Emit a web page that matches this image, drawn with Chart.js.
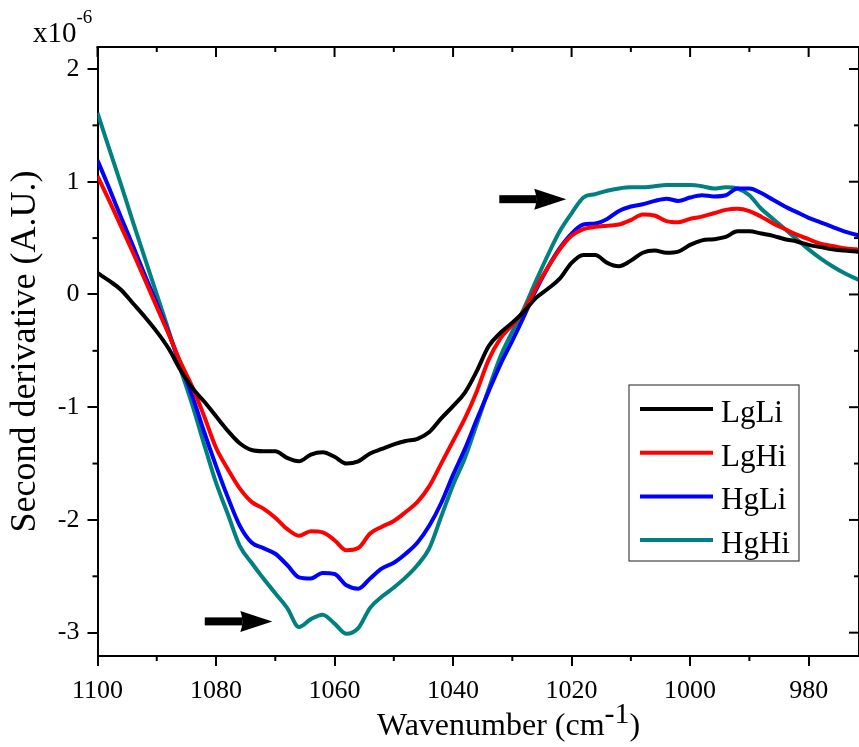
<!DOCTYPE html>
<html>
<head>
<meta charset="utf-8">
<script src="https://cdn.jsdelivr.net/npm/chart.js@4.4.0/dist/chart.umd.min.js"></script>
<style>
  html, body { margin: 0; padding: 0; background: #ffffff; }
  #wrap { width: 859px; height: 747px; }
</style>
</head>
<body>
<div id="wrap"><canvas id="c" width="859" height="747"></canvas></div>
<script>
// Wavenumber grid (cm-1) shared by all spectra
const wavenumbers = [
  1100,1098,1096,1094,1092,1090,1088,1086,1084,1082,
  1080,1078,1076,1074,1072,1070,1068,1066,1064,1062,
  1060,1058,1056,1054,1052,1050,1048,1046,1044,1042,
  1040,1038,1036,1034,1032,1030,1028,1026,1024,1022,
  1020,1018,1016,1014,1012,1010,1008,1006,1004,1002,
  1000,998,996,994,992,990,988,986,984,982,
  980,978,976,974,972,970
];

// Second-derivative spectra, units of 1e-6 A.U.
const lgli = [
  0.19,0.12,0.04,-0.08,-0.20,-0.33,-0.48,-0.67,-0.83,-0.95,
  -1.08,-1.21,-1.32,-1.38,-1.39,-1.39,-1.45,-1.48,-1.42,-1.40,
  -1.44,-1.50,-1.48,-1.41,-1.37,-1.33,-1.30,-1.28,-1.22,-1.10,
  -0.99,-0.87,-0.68,-0.46,-0.34,-0.25,-0.15,-0.03,0.05,0.14,
  0.28,0.35,0.35,0.28,0.25,0.30,0.37,0.39,0.37,0.38,
  0.44,0.48,0.49,0.51,0.56,0.56,0.54,0.52,0.49,0.47,
  0.44,0.42,0.40,0.39,0.38,0.37
];
const lghi = [
  1.05,0.83,0.60,0.37,0.13,-0.11,-0.35,-0.60,-0.82,-1.08,
  -1.36,-1.55,-1.72,-1.84,-1.90,-1.98,-2.08,-2.14,-2.10,-2.11,
  -2.18,-2.27,-2.25,-2.12,-2.06,-2.01,-1.93,-1.84,-1.70,-1.50,
  -1.30,-1.10,-0.86,-0.58,-0.39,-0.27,-0.14,0.06,0.24,0.40,
  0.52,0.58,0.60,0.61,0.62,0.66,0.71,0.70,0.65,0.64,
  0.67,0.69,0.72,0.75,0.76,0.74,0.69,0.63,0.58,0.53,
  0.49,0.45,0.43,0.41,0.40,0.39
];
const hgli = [
  1.19,0.94,0.68,0.43,0.17,-0.08,-0.34,-0.62,-0.90,-1.22,
  -1.52,-1.80,-2.05,-2.20,-2.25,-2.30,-2.40,-2.51,-2.52,-2.47,
  -2.48,-2.58,-2.61,-2.52,-2.43,-2.38,-2.30,-2.20,-2.05,-1.85,
  -1.60,-1.37,-1.11,-0.86,-0.62,-0.41,-0.19,0.04,0.24,0.41,
  0.54,0.62,0.63,0.67,0.74,0.78,0.80,0.83,0.85,0.83,
  0.86,0.88,0.87,0.88,0.94,0.94,0.90,0.84,0.78,0.73,
  0.68,0.64,0.60,0.56,0.53,0.51
];
const hghi = [
  1.61,1.29,0.97,0.64,0.32,0.00,-0.32,-0.66,-0.98,-1.33,
  -1.67,-1.95,-2.23,-2.38,-2.52,-2.65,-2.78,-2.95,-2.88,-2.84,
  -2.92,-3.01,-2.96,-2.78,-2.68,-2.60,-2.51,-2.40,-2.25,-1.97,
  -1.69,-1.45,-1.15,-0.84,-0.55,-0.33,-0.12,0.12,0.35,0.56,
  0.72,0.86,0.89,0.92,0.94,0.95,0.95,0.96,0.97,0.97,
  0.97,0.96,0.94,0.95,0.94,0.88,0.76,0.67,0.58,0.49,
  0.40,0.32,0.25,0.19,0.14,0.10
];

const seriesLabels = ['LgLi', 'LgHi', 'HgLi', 'HgHi'];
const seriesColors = ['#000000', '#ff0000', '#0000ff', '#008080'];

// Axis ticks
const xTickValues = [1100, 1080, 1060, 1040, 1020, 1000, 980];
const xMinorValues = [1090, 1070, 1050, 1030, 1010, 990];
const yTickValues = [-3, -2, -1, 0, 1, 2];
const yMinorValues = [-2.5, -1.5, -0.5, 0.5, 1.5];

// Arrow annotations in data units: [tail wavenumber, tip wavenumber, value]
const arrowMarks = [
  [1081.9, 1070.5, -2.90],
  [1032.2, 1020.9, 0.845]
];

const SERIF = "'Liberation Serif', 'Times New Roman', Times, serif";
Chart.defaults.font.family = SERIF;
Chart.defaults.color = '#000000';

const seriesValues = [lgli, lghi, hgli, hghi];
const datasets = seriesValues.map((vals, i) => ({
  label: seriesLabels[i],
  data: wavenumbers.map((w, k) => ({ x: w, y: vals[k] })),
  borderColor: seriesColors[i],
  backgroundColor: seriesColors[i],
  borderWidth: 4,
  pointRadius: 0,
  cubicInterpolationMode: 'monotone',
  fill: false
}));

// Frame, minor/inner ticks, arrows, legend box and text labels with superscripts
const decorations = {
  id: 'decorations',
  afterDatasetsDraw(chart) {
    const { ctx, chartArea: a, scales: { x, y } } = chart;
    ctx.save();
    ctx.strokeStyle = '#000';
    ctx.lineWidth = 2;
    ctx.lineCap = 'butt';
    const seg = (x1, y1, x2, y2) => { ctx.beginPath(); ctx.moveTo(x1, y1); ctx.lineTo(x2, y2); ctx.stroke(); };

    // top and right frame lines
    seg(a.left - 1, a.top, a.right + 1, a.top);
    seg(a.right, a.top, a.right, a.bottom);

    // major ticks on top/right point inward
    xTickValues.forEach(v => { const p = x.getPixelForValue(v); seg(p, a.top, p, a.top + 10); });
    yTickValues.forEach(v => { const p = y.getPixelForValue(v); seg(a.right, p, a.right - 10, p); });
    // minor ticks
    xMinorValues.forEach(v => {
      const p = x.getPixelForValue(v);
      seg(p, a.bottom, p, a.bottom + 5);
      seg(p, a.top, p, a.top + 5);
    });
    yMinorValues.forEach(v => {
      const p = y.getPixelForValue(v);
      seg(a.left, p, a.left - 5, p);
      seg(a.right, p, a.right - 5, p);
    });

    // arrows
    ctx.fillStyle = '#000';
    arrowMarks.forEach(([w0, w1, v]) => {
      const x0 = x.getPixelForValue(w0), x1 = x.getPixelForValue(w1), py = y.getPixelForValue(v);
      const headLen = 32, shaft = 8, headH = 21;
      ctx.fillRect(x0, py - shaft / 2, (x1 - headLen) - x0 + 2, shaft);
      ctx.beginPath();
      ctx.moveTo(x1 - headLen, py - headH / 2);
      ctx.quadraticCurveTo(x1 - headLen + 4, py, x1 - headLen, py + headH / 2);
      ctx.lineTo(x1, py);
      ctx.closePath();
      ctx.fill();
    });

    // legend
    const lx = 629, ly = 385, lw = 170, lh = 176;
    ctx.fillStyle = '#fff';
    ctx.fillRect(lx, ly, lw, lh);
    ctx.strokeStyle = '#444';
    ctx.lineWidth = 1.2;
    ctx.strokeRect(lx, ly, lw, lh);
    ctx.font = '31px ' + SERIF;
    ctx.textBaseline = 'alphabetic';
    ctx.textAlign = 'left';
    chart.data.datasets.forEach((ds, i) => {
      const rowY = 409 + i * 43.7;
      ctx.strokeStyle = ds.borderColor;
      ctx.lineWidth = 4;
      seg(640, rowY, 713, rowY);
      ctx.fillStyle = '#000';
      ctx.fillText(ds.label, 721, rowY + 13);
    });

    // x-axis title with superscript
    ctx.fillStyle = '#000';
    ctx.font = '32px ' + SERIF;
    const main = 'Wavenumber (cm';
    const tx = 377, ty = 735;
    ctx.fillText(main, tx, ty);
    let cx = tx + ctx.measureText(main).width;
    ctx.font = '30px ' + SERIF;
    ctx.fillText('-1', cx, ty - 12);
    cx += ctx.measureText('-1').width;
    ctx.font = '32px ' + SERIF;
    ctx.fillText(')', cx, ty);

    // exponent factor above the y axis
    ctx.font = '29px ' + SERIF;
    ctx.fillText('x10', 33, 42);
    const ex = 33 + ctx.measureText('x10').width;
    ctx.font = '19px ' + SERIF;
    ctx.fillText('-6', ex, 23);

    ctx.restore();
  }
};

new Chart(document.getElementById('c'), {
  type: 'line',
  data: { datasets },
  options: {
    responsive: false,
    animation: false,
    layout: { padding: { top: 47, right: 0, left: 0, bottom: 0 } },
    plugins: { legend: { display: false }, tooltip: { enabled: false } },
    scales: {
      x: {
        type: 'linear',
        reverse: true,
        min: 971.5,
        max: 1100,
        afterBuildTicks: s => { s.ticks = xTickValues.map(v => ({ value: v })); },
        afterFit: s => { s.height = 91; },
        grid: { drawOnChartArea: false, drawTicks: true, tickLength: 10, lineWidth: 2, color: '#000' },
        border: { display: true, color: '#000', width: 2 },
        ticks: { font: { family: SERIF, size: 26 }, color: '#000', padding: 10, maxRotation: 0, callback: v => String(v) },
        title: { display: false }
      },
      y: {
        type: 'linear',
        min: -3.207,
        max: 2.195,
        afterBuildTicks: s => { s.ticks = yTickValues.map(v => ({ value: v })); },
        afterFit: s => { s.width = 97.5; },
        grid: { drawOnChartArea: false, drawTicks: true, tickLength: 10, lineWidth: 2, color: '#000' },
        border: { display: true, color: '#000', width: 2 },
        ticks: { font: { family: SERIF, size: 26 }, color: '#000', padding: 8, callback: v => String(v) },
        title: { display: true, text: 'Second derivative (A.U.)', font: { family: SERIF, size: 36 }, color: '#000', padding: { top: 4, bottom: 0 } }
      }
    }
  },
  plugins: [decorations]
});
</script>
</body>
</html>
